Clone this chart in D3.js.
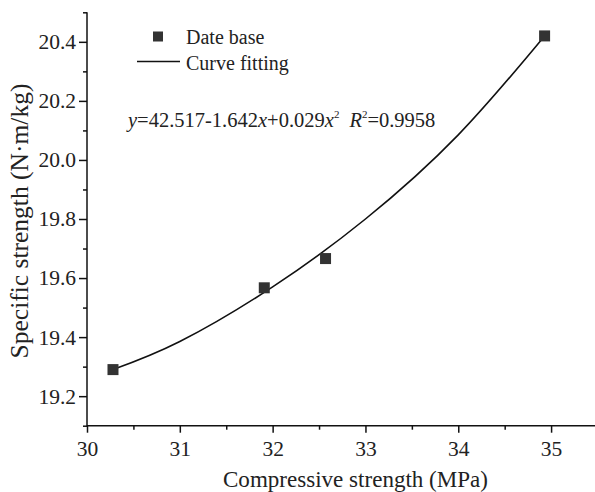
<!DOCTYPE html>
<html>
<head>
<meta charset="utf-8">
<script src="https://cdn.jsdelivr.net/npm/d3@7"></script>
<style>
  body { margin: 0; background: #fff; }
  svg text { font-family: "Liberation Serif", "Times New Roman", serif !important; fill: #222; }
</style>
</head>
<body>
<div id="wrapper"></div>
<script>
// measured points
const strengthX = [30.28, 31.91, 32.57, 34.93]
const specificY = [19.29, 19.567, 19.666, 20.42]

// fitted curve
const fitX = [30.28, 31, 32, 33, 34, 34.93]
const fitY = [19.29, 19.385, 19.57, 19.80, 20.085, 20.42]

const xMajor = [30, 31, 32, 33, 34, 35]
const xMinor = [30.5, 31.5, 32.5, 33.5, 34.5, 35.5]
const yMajor = [19.2, 19.4, 19.6, 19.8, 20.0, 20.2, 20.4]
const yMinor = [19.1, 19.3, 19.5, 19.7, 19.9, 20.1, 20.3, 20.5]

const legendLabels = ["Date base", "Curve fitting"]

let dimensions = {
    width: 595,
    height: 492,
    margin: { top: 12.3, right: -2.5, bottom: 66.3, left: 87 }
}

const x = d3.scaleLinear()
    .domain([30, 35.5])
    .range([dimensions.margin.left, dimensions.width - dimensions.margin.right])

const y = d3.scaleLinear()
    .domain([19.1, 20.5])
    .range([dimensions.height - dimensions.margin.bottom, dimensions.margin.top])

const svg = d3.select("#wrapper")
    .append("svg")
    .attr("width", dimensions.width)
    .attr("height", dimensions.height)

const x0 = dimensions.height - dimensions.margin.bottom

// minor ticks first
svg.append("g")
    .attr("transform", `translate(0,${x0})`)
    .call(d3.axisBottom(x).tickValues(xMinor).tickSize(4).tickFormat(""))
svg.append("g")
    .attr("transform", `translate(${dimensions.margin.left},0)`)
    .call(d3.axisLeft(y).tickValues(yMinor).tickSize(4).tickFormat(""))

svg.append("g")
    .attr("transform", `translate(0,${x0})`)
    .call(d3.axisBottom(x).tickValues(xMajor).tickSize(7).tickPadding(8.5).tickFormat(d3.format("d")))
    .attr("font-family", "Liberation Serif")
    .attr("font-size", 21.5)
svg.append("g")
    .attr("transform", `translate(${dimensions.margin.left},0)`)
    .call(d3.axisLeft(y).tickValues(yMajor).tickSize(8).tickPadding(3).tickFormat(d3.format(".1f")))
    .attr("font-family", "Liberation Serif")
    .attr("font-size", 21.5)

svg.selectAll(".domain").remove()
svg.selectAll(".tick line")
    .attr("stroke", "#111")
    .attr("stroke-width", 1.5)
svg.selectAll(".tick text").attr("fill", "#222")

// axis lines
svg.append("line")
    .attr("x1", x.range()[0]).attr("x2", x.range()[1])
    .attr("y1", x0).attr("y2", x0)
    .attr("stroke", "#111").attr("stroke-width", 1.5)
svg.append("line")
    .attr("x1", dimensions.margin.left).attr("x2", dimensions.margin.left)
    .attr("y1", y.range()[0] + 0.75).attr("y2", y.range()[1])
    .attr("stroke", "#111").attr("stroke-width", 1.5)

// titles
svg.append("text")
    .attr("x", 355.5)
    .attr("y", 487)
    .attr("text-anchor", "middle")
    .attr("textLength", 265)
    .attr("lengthAdjust", "spacingAndGlyphs")
    .style("font-size", "24px")
    .text("Compressive strength (MPa)")

svg.append("text")
    .attr("transform", "translate(28,221) rotate(-90)")
    .attr("text-anchor", "middle")
    .style("font-size", "25.5px")
    .text("Specific strength (N·m/kg)")

// fit line
const line = d3.line()
    .x(d => x(d[0]))
    .y(d => y(d[1]))
    .curve(d3.curveNatural)

svg.append("path")
    .datum(d3.zip(fitX, fitY))
    .attr("fill", "none")
    .attr("stroke", "#111")
    .attr("stroke-width", 1.6)
    .attr("d", line)

// data squares
const size = 11
svg.selectAll("rect.pt")
    .data(d3.zip(strengthX, specificY))
    .join("rect")
    .attr("class", "pt")
    .attr("x", d => x(d[0]) - size / 2)
    .attr("y", d => y(d[1]) - size / 2)
    .attr("width", size)
    .attr("height", size)
    .attr("fill", "#333")

// legend
const legend = svg.append("g")
legend.append("rect")
    .attr("x", 153).attr("y", 31.5)
    .attr("width", 10).attr("height", 10)
    .attr("fill", "#333")
legend.append("line")
    .attr("x1", 137).attr("x2", 180)
    .attr("y1", 61.5).attr("y2", 61.5)
    .attr("stroke", "#111").attr("stroke-width", 1.5)
legend.selectAll("text")
    .data(legendLabels)
    .join("text")
    .attr("x", 186)
    .attr("y", (d, i) => 43.5 + i * 26.5)
    .style("font-size", "20px")
    .text(d => d)

// equation
const eq = svg.append("text")
    .attr("x", 128)
    .attr("y", 127)
    .style("font-size", "20.5px")
eq.append("tspan").style("font-style", "italic").text("y")
eq.append("tspan").text("=42.517-1.642")
eq.append("tspan").style("font-style", "italic").text("x")
eq.append("tspan").text("+0.029")
eq.append("tspan").style("font-style", "italic").text("x")
eq.append("tspan").attr("dy", -9).style("font-size", "11px").text("2")
eq.append("tspan").attr("dy", 9).attr("dx", 10).style("font-style", "italic").text("R")
eq.append("tspan").attr("dy", -9).style("font-size", "11px").text("2")
eq.append("tspan").attr("dy", 9).text("=0.9958")
</script>
</body>
</html>
